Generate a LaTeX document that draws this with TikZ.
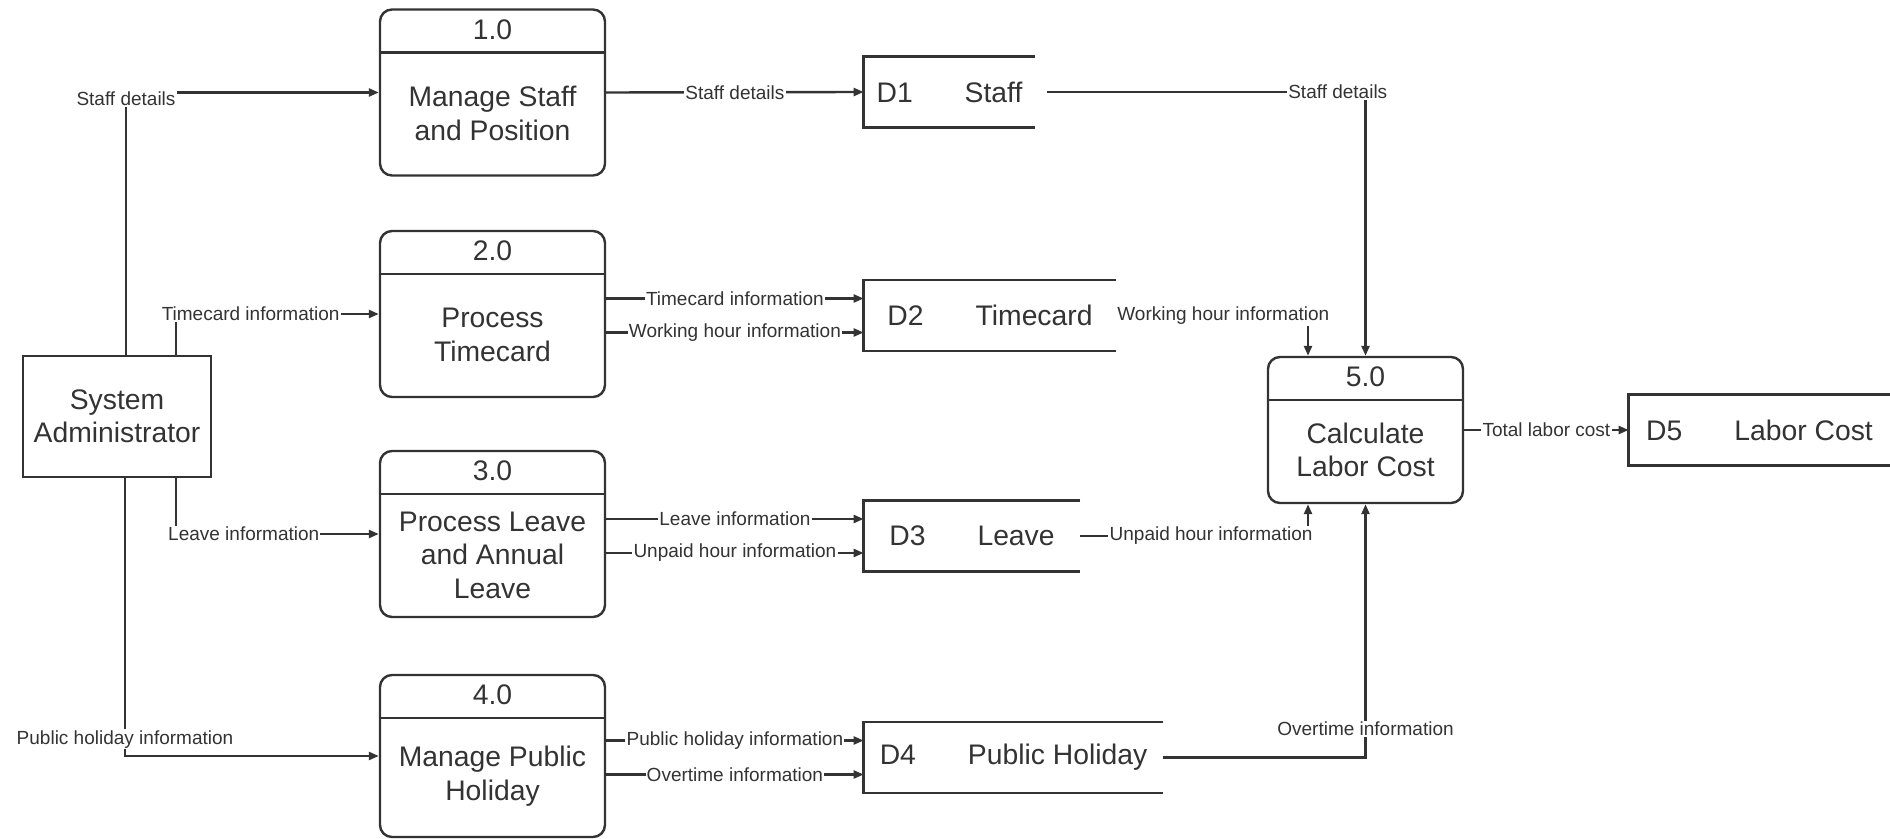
\documentclass[tikz,border=0pt]{standalone}
\usepackage{fontspec}
\setmainfont{Liberation Sans}
\usetikzlibrary{arrows.meta}

\tikzset{
  bigtxt/.style={font=\fontsize{14.15pt}{16.75pt}\selectfont, align=center, inner sep=0pt},
  lbl/.style={font=\fontsize{9.5pt}{11pt}\selectfont, fill=white, inner sep=0.6pt},
  flow/.style={line width=1.2pt, -{Triangle[length=5pt,width=4pt]}},
  ent/.style={draw, line width=1.2pt, minimum width=94pt, minimum height=60.5pt, bigtxt},
  proc/.style={draw, line width=1.2pt, rounded corners=6pt, minimum width=112.5pt,
    minimum height=83pt, inner sep=0pt,
    path picture={\draw[line width=1.2pt]
      ([yshift=-21.5pt]path picture bounding box.north west) --
      ([yshift=-21.5pt]path picture bounding box.north east);}},
  store/.style={minimum height=35pt, bigtxt}
}

\begin{document}
\begin{tikzpicture}[x=0.5pt,y=-0.5pt,color=black!80]
\useasboundingbox (0,0) rectangle (1890,839);

% external entity
\node[ent] (sa) at (117,416.5) {System\\Administrator};

% processes
\node[proc] (p1) at (492.5,92.5) {};
\node[bigtxt] (p1n) at ([yshift=-10.5pt]p1.north) {1.0};
\node[bigtxt] (p1t) at ([yshift=-10.5pt]p1.center) {Manage Staff\\and Position};
\node[proc] (p2) at (492.5,314) {};
\node[bigtxt] (p2n) at ([yshift=-10.5pt]p2.north) {2.0};
\node[bigtxt] (p2t) at ([yshift=-10.5pt]p2.center) {Process\\Timecard};
\node[proc] (p3) at (492.5,534) {};
\node[bigtxt] (p3n) at ([yshift=-10.5pt]p3.north) {3.0};
\node[bigtxt] (p3t) at ([yshift=-10.5pt]p3.center) {Process Leave\\and Annual\\Leave};
\node[proc,minimum height=81pt] (p4) at (492.5,756) {};
\node[bigtxt] (p4n) at ([yshift=-10.5pt]p4.north) {4.0};
\node[bigtxt] (p4t) at ([yshift=-10pt]p4.center) {Manage Public\\Holiday};
\node[proc,minimum width=97.5pt,minimum height=73pt] (p5) at (1365.5,430) {};
\node[bigtxt] (p5n) at ([yshift=-10.5pt]p5.north) {5.0};
\node[bigtxt] (p5t) at ([yshift=-10pt]p5.center) {Calculate\\Labor Cost};

% data stores (open on the right)
\node[store,minimum width=85.5pt] (d1) at (949.5,92) {D1\hspace{26pt}Staff};
\node[store,minimum width=126pt] (d2) at (990,315.5) {D2\hspace{26pt}Timecard};
\node[store,minimum width=108pt] (d3) at (972,536) {D3\hspace{26pt}Leave};
\node[store,minimum width=149.5pt] (d4) at (1013.5,757.5) {D4\hspace{26pt}Public Holiday};
\node[store,minimum width=130.5pt] (d5) at (1759.5,430) {D5\hspace{26pt}Labor Cost};
\draw[line width=1.2pt] (d1.north east) -- (d1.north west) -- (d1.south west) -- (d1.south east);
\draw[line width=1.2pt] (d2.north east) -- (d2.north west) -- (d2.south west) -- (d2.south east);
\draw[line width=1.2pt] (d3.north east) -- (d3.north west) -- (d3.south west) -- (d3.south east);
\draw[line width=1.2pt] (d4.north east) -- (d4.north west) -- (d4.south west) -- (d4.south east);
\draw[line width=1.2pt] (d5.north east) -- (d5.north west) -- (d5.south west) -- (d5.south east);

% administrator to processes
\draw[flow] ([xshift=4.5pt]sa.north) |- node[lbl,pos=0.488] {Staff details} (p1.west);
\draw[flow] ([xshift=29.5pt]sa.north) |- node[lbl,pos=0.684] {Timecard information} (p2.west);
\draw[flow] ([xshift=29.5pt]sa.south) |- node[lbl,pos=0.667] {Leave information} (p3.west);
\draw[flow] ([xshift=4pt]sa.south) |- node[lbl,pos=0.47] {Public holiday information} (p4.west);

% processes to stores
\draw[flow] (p1.east) -- node[lbl] {Staff details} (d1.west);
\draw[flow] ([yshift=8.5pt]d2.west -| p2.east) -- node[lbl] {Timecard information} ([yshift=8.5pt]d2.west);
\draw[flow] ([yshift=-8.5pt]d2.west -| p2.east) -- node[lbl] {Working hour information} ([yshift=-8.5pt]d2.west);
\draw[flow] ([yshift=8.5pt]d3.west -| p3.east) -- node[lbl] {Leave information} ([yshift=8.5pt]d3.west);
\draw[flow] ([yshift=-8.5pt]d3.west -| p3.east) -- node[lbl] {Unpaid hour information} ([yshift=-8.5pt]d3.west);
\draw[flow] ([yshift=8.5pt]d4.west -| p4.east) -- node[lbl] {Public holiday information} ([yshift=8.5pt]d4.west);
\draw[flow] ([yshift=-8.5pt]d4.west -| p4.east) -- node[lbl] {Overtime information} ([yshift=-8.5pt]d4.west);

% stores to 5.0 and out
\draw[flow,shorten <=6pt] (d1.east) -| node[lbl,pos=0.458] {Staff details} (p5.north);
\draw[flow] (d2.east) -| node[lbl,pos=0.279] {Working hour information} ([xshift=-28.75pt]p5.north);
\draw[flow] (d3.east) -| node[lbl,pos=0.287] {Unpaid hour information} ([xshift=-28.75pt]p5.south);
\draw[flow] (d4.east) -| node[lbl,pos=0.556] {Overtime information} (p5.south);
\draw[flow] (p5.east) -- node[lbl] {Total labor cost} (d5.west);
\end{tikzpicture}
\end{document}
